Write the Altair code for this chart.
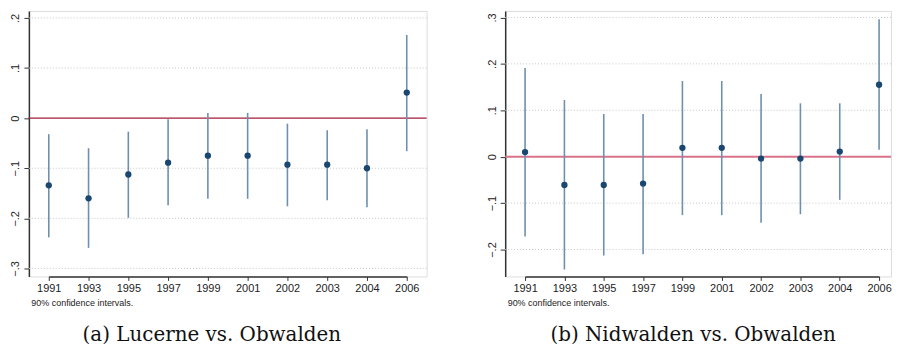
import altair as alt
import pandas as pd

years = ["1991", "1993", "1995", "1997", "1999", "2001", "2002", "2003", "2004", "2006"]

# (a) Lucerne vs. Obwalden
a_est = [-0.134, -0.160, -0.1125, -0.089, -0.075, -0.075, -0.093, -0.093, -0.100, 0.051]
a_lo = [-0.238, -0.259, -0.199, -0.174, -0.161, -0.161, -0.176, -0.164, -0.178, -0.066]
a_hi = [-0.032, -0.060, -0.027, -0.002, 0.0105, 0.0105, -0.011, -0.024, -0.022, 0.166]

# (b) Nidwalden vs. Obwalden
b_est = [0.010, -0.061, -0.061, -0.058, 0.019, 0.019, -0.004, -0.004, 0.011, 0.155]
b_lo = [-0.172, -0.243, -0.213, -0.210, -0.126, -0.126, -0.1425, -0.124, -0.093, 0.015]
b_hi = [0.191, 0.122, 0.092, 0.092, 0.163, 0.163, 0.135, 0.115, 0.115, 0.296]

a_ticks = [-0.3, -0.2, -0.1, 0, 0.1, 0.2]
b_ticks = [-0.2, -0.1, 0, 0.1, 0.2, 0.3]

caption_a = "(a) Lucerne vs. Obwalden"
caption_b = "(b) Nidwalden vs. Obwalden"
note = "90% confidence intervals."

label_expr = "datum.value == 0 ? '0' : replace(format(datum.value, '.1f'), '0.', '.')"


def panel(est, lo, hi, ticks, domain, caption, width, xrange, zero_color, zero_width, cap_dx):
    df = pd.DataFrame({"year": years, "est": est, "lo": lo, "hi": hi})
    x = alt.X(
        "year:O",
        sort=years,
        scale=alt.Scale(type="point", range=xrange, padding=0),
        axis=alt.Axis(
            title=note, titleAnchor="start", titleAlign="left", titleX=2, titleY=22,
            titleFontSize=9, titleFontWeight="normal", titleFont="Liberation Sans", titleColor="#222",
            labelAngle=0, labelFontSize=11, labelFont="Liberation Sans", labelColor="#222",
            labelPadding=2, tickSize=4, tickColor="#333", domainColor="#333", domainWidth=1.5,
            grid=False,
        ),
    )
    y_scale = alt.Scale(domain=domain, nice=False, zero=False)
    grid_ticks = [t for t in ticks if t != 0]
    base = alt.Chart(df)
    grid = alt.Chart(pd.DataFrame({"t": grid_ticks})).mark_rule(
        color="#c8c8c8", strokeDash=[1, 2], strokeWidth=1
    ).encode(y=alt.Y("t:Q", scale=y_scale))
    zero = alt.Chart(pd.DataFrame({"t": [0]})).mark_rule(
        color=zero_color, strokeWidth=zero_width
    ).encode(y=alt.Y("t:Q", scale=y_scale))
    bars = base.mark_rule(color="#6e8fae", strokeWidth=1.6).encode(
        x=x,
        y=alt.Y(
            "lo:Q",
            scale=y_scale,
            axis=alt.Axis(
                values=ticks, labelExpr=label_expr, title=None, grid=False,
                labelAngle=270, labelAlign="center", labelBaseline="bottom",
                labelFontSize=11, labelFont="Liberation Sans", labelColor="#222",
                labelPadding=3, tickSize=5, tickColor="#333", domainColor="#333",
                domainWidth=1.5, minExtent=20, maxExtent=20,
            ),
        ),
        y2="hi:Q",
    )
    pts = base.mark_point(filled=True, color="#1a476f", size=40, opacity=1).encode(
        x=x, y=alt.Y("est:Q", scale=y_scale)
    )
    return alt.layer(grid, zero, bars, pts).properties(
        width=width,
        height=267,
        title=alt.TitleParams(
            caption, orient="bottom", anchor="middle", font="DejaVu Serif",
            fontSize=20, fontWeight="normal", color="#111", offset=18, dx=cap_dx,
        ),
    )


left = panel(a_est, a_lo, a_hi, a_ticks, [-0.316, 0.214], caption_a, 400, [20, 380], "#a51d3a", 1.2, -16)
right = panel(b_est, b_lo, b_hi, b_ticks, [-0.258, 0.314], caption_b, 388, [20, 376], "#d9738a", 2, -5)

chart = alt.hconcat(left, right, spacing=56).properties(
    padding={"left": 0, "top": 1, "right": 0, "bottom": 0}
).configure_view(stroke=None).configure(background="white")

chart.save("out.html", embed_options={"renderer": "svg", "actions": False})
